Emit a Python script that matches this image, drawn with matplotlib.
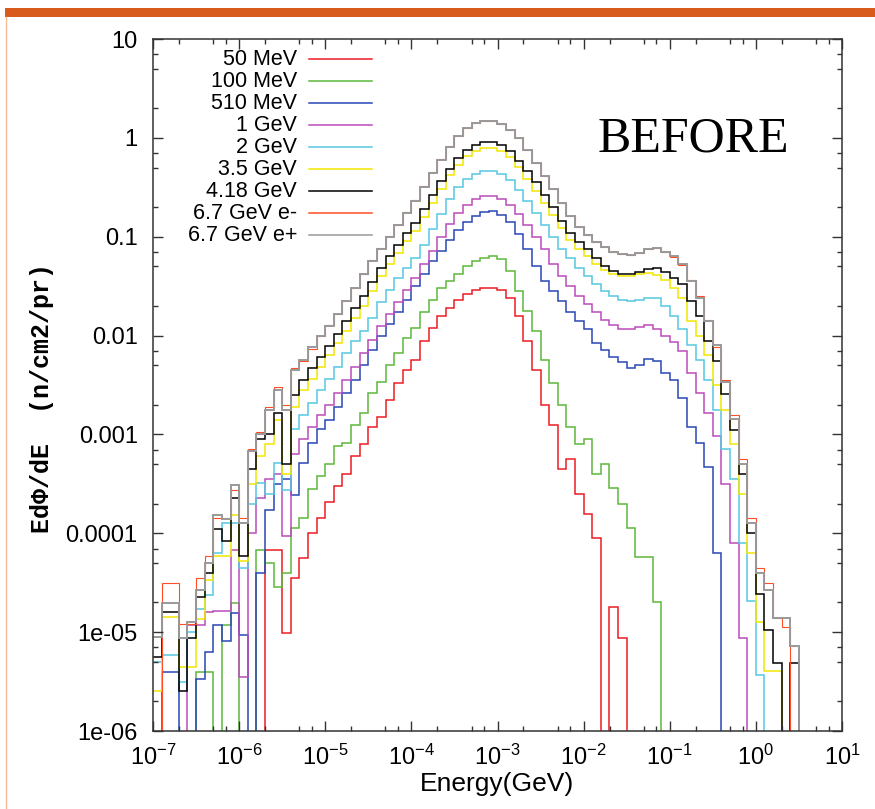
import numpy as np
import matplotlib

matplotlib.use("Agg")

import matplotlib.pyplot as plt
from matplotlib.lines import Line2D
from matplotlib.patches import Rectangle
from matplotlib.ticker import FixedFormatter, FixedLocator, LogLocator, NullFormatter

plt.rcParams["font.family"] = ["Liberation Sans", "DejaVu Sans"]

# histogram bins: 0.1 decade wide, 1e-7 .. 10^0.6 GeV
BIN_EDGES_GEV = np.logspace(-7.0, 0.6, 77)

# log10(E dPhi/dE) per bin; None = empty bin
mev_50 = [
    None, None, None, None, None, None, None, None, None, None,
    None, None, None, -4.17, -4.17, -5.01, -4.45, -4.25, -4.00, -3.85,
    -3.68, -3.52, -3.40, -3.22, -3.10, -2.92, -2.82, -2.65, -2.48, -2.35,
    -2.25, -2.05, -1.92, -1.80, -1.72, -1.64, -1.58, -1.54, -1.52, -1.52,
    -1.54, -1.62, -1.80, -2.05, -2.35, -2.70, -2.90, -3.35, -3.25, -3.60,
    -3.80, -4.05, None, -4.75, -5.06, None, None, None, None, None,
    None, None, None, None, None, None, None, None, None, None,
    None, None, None, None, None, None,
]
mev_100 = [
    None, None, None, None, None, -5.40, -5.40, None, -4.93, -4.71,
    None, None, -4.17, -4.30, -4.54, -4.40, -3.95, -3.85, -3.55, -3.42,
    -3.30, -3.12, -3.09, -2.90, -2.78, -2.58, -2.47, -2.30, -2.18, -2.02,
    -1.92, -1.76, -1.64, -1.52, -1.45, -1.38, -1.30, -1.25, -1.22, -1.20,
    -1.23, -1.35, -1.55, -1.75, -1.95, -2.25, -2.48, -2.70, -2.92, -3.10,
    -3.05, -3.40, -3.30, -3.54, -3.70, -3.95, -4.24, -4.24, -4.70, None,
    None, None, None, None, None, None, None, None, None, None,
    None, None, None, None, None, None,
]
mev_510 = [
    None, -5.40, -5.40, None, None, -5.47, -5.20, -4.93, -5.09, -4.81,
    -5.03, None, -4.40, -3.76, -3.50, -3.45, -3.61, -3.29, -3.09, -2.95,
    -2.85, -2.72, -2.58, -2.45, -2.30, -2.15, -2.00, -1.88, -1.76, -1.64,
    -1.50, -1.38, -1.25, -1.14, -1.03, -0.93, -0.85, -0.79, -0.75, -0.74,
    -0.78, -0.85, -0.97, -1.12, -1.30, -1.45, -1.55, -1.65, -1.76, -1.85,
    -1.93, -2.08, -2.15, -2.22, -2.27, -2.33, -2.30, -2.24, -2.26, -2.38,
    -2.45, -2.63, -2.92, -3.09, -3.33, -4.20, None, None, None, None,
    None, None, None, None, None, None,
]
gev_1 = [
    None, None, None, None, -4.93, -4.93, -4.80, -4.79, -4.79, -4.17,
    -5.45, -4.00, -3.64, -3.45, -3.40, -4.03, -3.20, -3.05, -2.92, -2.80,
    -2.70, -2.58, -2.45, -2.32, -2.18, -2.04, -1.90, -1.78, -1.66, -1.54,
    -1.42, -1.28, -1.14, -1.00, -0.87, -0.76, -0.68, -0.62, -0.59, -0.59,
    -0.62, -0.68, -0.77, -0.88, -1.00, -1.12, -1.28, -1.40, -1.50, -1.60,
    -1.68, -1.76, -1.84, -1.89, -1.93, -1.93, -1.91, -1.89, -1.93, -2.00,
    -2.07, -2.16, -2.38, -2.58, -2.78, -3.02, -3.50, -4.10, -5.06, None,
    None, None, None, None, None, None,
]
gev_2 = [
    -5.30, -5.23, -5.23, -5.50, -5.00, -4.77, -4.62, -4.20, -3.90, -3.90,
    -4.35, -3.70, -3.49, -3.60, -3.29, -3.56, -2.95, -2.80, -2.68, -2.55,
    -2.44, -2.32, -2.18, -2.05, -1.95, -1.82, -1.66, -1.54, -1.42, -1.32,
    -1.22, -1.08, -0.92, -0.77, -0.62, -0.50, -0.42, -0.37, -0.34, -0.34,
    -0.37, -0.43, -0.53, -0.64, -0.76, -0.88, -1.00, -1.12, -1.22, -1.32,
    -1.40, -1.48, -1.55, -1.60, -1.64, -1.65, -1.64, -1.62, -1.62, -1.70,
    -1.80, -1.93, -2.10, -2.25, -2.45, -2.75, -3.15, -3.45, -4.10, -4.69,
    -5.43, None, None, None, None, None,
]
gev_3p5 = [
    -5.60, -4.85, -4.85, -5.35, -5.35, -4.87, -4.47, -4.23, -4.23, -3.81,
    -4.28, -3.50, -3.22, -3.10, -2.85, -3.40, -2.72, -2.55, -2.44, -2.32,
    -2.20, -2.08, -1.95, -1.82, -1.70, -1.55, -1.40, -1.28, -1.16, -1.04,
    -0.94, -0.80, -0.66, -0.52, -0.38, -0.27, -0.18, -0.13, -0.10, -0.10,
    -0.13, -0.19, -0.29, -0.42, -0.54, -0.66, -0.78, -0.91, -1.03, -1.12,
    -1.20, -1.28, -1.34, -1.38, -1.40, -1.40, -1.38, -1.37, -1.39, -1.44,
    -1.52, -1.62, -1.85, -2.00, -2.20, -2.50, -2.75, -3.10, -3.60, -4.20,
    -4.90, -5.39, -5.39, None, None, None,
]
gev_4p18 = [
    -5.25, -4.80, -4.80, -5.60, -5.06, -4.64, -4.40, -3.96, -4.08, -3.64,
    -4.23, -3.35, -3.05, -3.00, -2.78, -3.30, -2.60, -2.45, -2.33, -2.22,
    -2.11, -1.98, -1.85, -1.72, -1.60, -1.46, -1.32, -1.20, -1.08, -0.96,
    -0.86, -0.72, -0.58, -0.44, -0.31, -0.20, -0.12, -0.07, -0.04, -0.04,
    -0.07, -0.13, -0.23, -0.34, -0.45, -0.58, -0.70, -0.84, -0.96, -1.05,
    -1.12, -1.22, -1.30, -1.35, -1.38, -1.38, -1.36, -1.33, -1.32, -1.36,
    -1.42, -1.48, -1.65, -1.80, -2.05, -2.26, -2.59, -2.96, -3.40, -4.00,
    -4.61, -4.98, -5.31, None, -5.31, None,
]
gev_6p7_eminus = [
    None, -4.50, -4.50, -4.92, -4.92, -4.45, -4.23, -3.85, -3.85, -3.56,
    -3.85, -3.15, -2.98, -2.72, -2.52, -2.70, -2.33, -2.26, -2.14, -2.00,
    -1.89, -1.78, -1.65, -1.52, -1.38, -1.24, -1.11, -0.99, -0.88, -0.75,
    -0.63, -0.49, -0.35, -0.21, -0.08, 0.02, 0.10, 0.15, 0.17, 0.17,
    0.14, 0.08, 0.00, -0.12, -0.25, -0.39, -0.52, -0.66, -0.79, -0.90,
    -0.98, -1.05, -1.10, -1.15, -1.17, -1.19, -1.16, -1.12, -1.11, -1.15,
    -1.21, -1.29, -1.44, -1.60, -1.84, -2.12, -2.45, -2.80, -3.25, -3.85,
    -4.35, -4.50, -4.86, -4.95, None, None,
]
gev_6p7_eplus = [
    -5.05, -4.71, -4.71, -5.06, -4.90, -4.57, -4.30, -3.81, -3.86, -3.51,
    -3.90, -3.17, -3.00, -2.75, -2.55, -2.75, -2.35, -2.25, -2.12, -2.00,
    -1.90, -1.78, -1.65, -1.52, -1.38, -1.25, -1.12, -1.00, -0.88, -0.76,
    -0.64, -0.50, -0.36, -0.22, -0.09, 0.02, 0.10, 0.15, 0.17, 0.17,
    0.14, 0.08, 0.00, -0.12, -0.25, -0.39, -0.52, -0.66, -0.79, -0.90,
    -0.98, -1.05, -1.10, -1.15, -1.17, -1.19, -1.16, -1.12, -1.11, -1.15,
    -1.20, -1.28, -1.45, -1.62, -1.85, -2.10, -2.47, -2.84, -3.30, -3.90,
    -4.40, -4.57, -4.86, -4.86, -5.14, None,
]

series = [mev_50, mev_100, mev_510, gev_1, gev_2, gev_3p5, gev_4p18,
          gev_6p7_eminus, gev_6p7_eplus]
series_labels = ["50 MeV", "100 MeV", "510 MeV", "1 GeV", "2 GeV", "3.5 GeV",
                 "4.18 GeV", "6.7 GeV e-", "6.7 GeV e+"]
series_colors = ["#ec1c24", "#5cb83c", "#2a46b4", "#bb4cbb", "#56c8e2",
                 "#f2e600", "#000000", "#ff4e24", "#999999"]
series_widths = [1.1, 1.1, 1.1, 1.1, 1.1, 1.1, 1.1, 0.8, 1.4]

y_tick_values = [1e-6, 1e-5, 1e-4, 1e-3, 1e-2, 1e-1, 1, 10]
y_tick_labels = ["1e-06", "1e-05", "0.0001", "0.001", "0.01", "0.1", "1", "10"]

W, H = 875, 809


def to_flux(values):
    # empty bins go far below the axis so the step drops off the frame
    return np.array([1e-12 if v is None else 10.0 ** v for v in values])


def main():
    fig = plt.figure(figsize=(W / 100, H / 100), dpi=100)
    ax = fig.add_axes([153 / W, 1 - 731 / H, 689 / W, 692 / H])

    for values, color, lw in zip(series, series_colors, series_widths):
        ax.stairs(to_flux(values), BIN_EDGES_GEV, baseline=None,
                  color=color, linewidth=lw)

    ax.set_xscale("log")
    ax.set_yscale("log")
    ax.set_xlim(1e-7, 1e1)
    ax.set_ylim(1e-6, 10)

    ax.xaxis.set_major_locator(LogLocator(base=10, numticks=20))
    ax.xaxis.set_minor_locator(LogLocator(base=10, subs=(2, 5, 7), numticks=20))
    ax.xaxis.set_minor_formatter(NullFormatter())
    ax.yaxis.set_major_locator(FixedLocator(y_tick_values))
    ax.yaxis.set_major_formatter(FixedFormatter(y_tick_labels))
    ax.yaxis.set_minor_locator(LogLocator(base=10, subs=(2, 5, 7), numticks=20))
    ax.yaxis.set_minor_formatter(NullFormatter())

    ax.tick_params(which="both", direction="in", top=True, right=True,
                   color="#333333", width=1.0)
    ax.tick_params(which="major", length=7.5, labelsize=17)
    ax.tick_params(axis="x", which="major", pad=10)
    ax.tick_params(axis="y", which="major", pad=11)
    ax.tick_params(which="minor", length=3.8)
    for spine in ax.spines.values():
        spine.set_color("#333333")
        spine.set_linewidth(1.1)

    # legend: labels right-aligned, sample line to the right
    legend_top = 0.971
    legend_step = 0.0318
    for k, (label, color) in enumerate(zip(series_labels, series_colors)):
        y = legend_top - k * legend_step
        ax.text(0.209, y, label, transform=ax.transAxes, ha="right",
                va="center", fontsize=15.5)
        ax.add_line(Line2D([0.2264, 0.3179], [y, y], transform=ax.transAxes,
                           color=color, linewidth=1.1))

    fig.text(497 / W, 1 - 784 / H, "Energy(GeV)", ha="center", va="center",
             fontsize=19)
    fig.text(42 / W, 1 - 398 / H, "EdΦ/dE  (n/cm2/pr)", rotation=90,
             ha="center", va="center", fontsize=18, fontweight="bold",
             family=["Liberation Mono", "DejaVu Sans Mono"])
    fig.text(693 / W, 1 - 139 / H, "BEFORE", ha="center", va="center",
             fontsize=36, family=["Liberation Serif", "DejaVu Serif"])

    # slide decoration: orange bar on top, thin line on the left
    fig.add_artist(Rectangle((5 / W, 1 - 17 / H), 1 - 5 / W, 9 / H,
                             transform=fig.transFigure, color="#d95b1c", lw=0))
    fig.add_artist(Line2D([6 / W, 6 / W], [0, 1 - 17 / H],
                          transform=fig.transFigure, color="#f6b896", lw=1.0))

    fig.savefig("out.png", dpi=100)
    plt.close(fig)


if __name__ == "__main__":
    main()
